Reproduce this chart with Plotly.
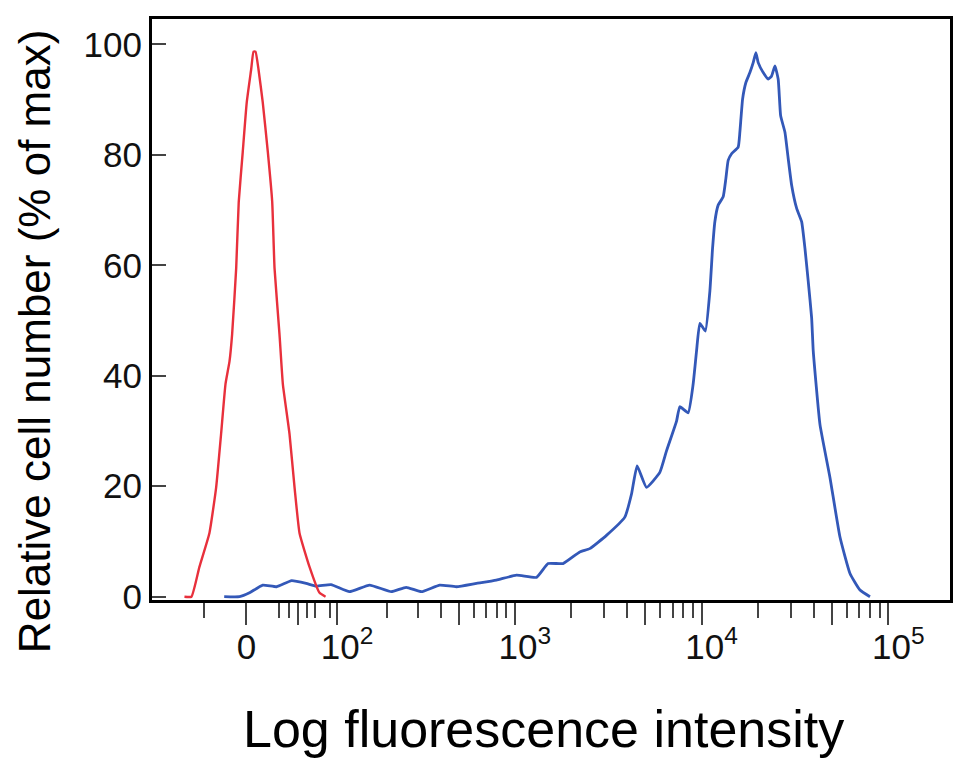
import numpy as np
import plotly.graph_objects as go

# ---- data (fluorescence intensity, % of max) ----
red_intensity = [-61, -53, -44.4, -34.2, -27.6, -22.9, -18.8, -15.1, -12.7, -9.0, -6.7, -3.1,
                 0.5, 4.5, 6.6, 8.4, 11.1, 15.0, 19.7, 23.8, 26.0, 30.8, 34.1, 40.8, 46.1,
                 51.5, 62.9, 75.3, 83.3]
red_pct = [0, 0, 5.4, 11.5, 19.8, 29.5, 38.5, 42.6, 47.5, 59.5, 71.5, 80.5,
           89.5, 95.5, 98.7, 98.7, 95.5, 89.5, 80.5, 71.5, 59.5, 47.5, 38.5, 29.5, 19.8,
           11.5, 5.4, 0.7, 0]

blue_intensity = [-20, -6, 3, 15, 28, 43, 59, 71, 91, 120, 159, 212, 257, 312, 393, 484, 621, 795,
                  1020, 1306, 1507, 1813, 2228, 2520, 3097, 3882, 4217, 4518, 5074, 5978, 6492,
                  7348, 7651, 8478, 9018, 9404, 9794, 10480, 11080, 11456, 11785, 12276, 13056,
                  13498, 13887, 14482, 15710, 16042, 16589, 17277, 18152, 18907, 19544, 20109,
                  21389, 22749, 23729, 24713, 25737, 26514, 27961, 29120, 30374, 32309, 34354,
                  35776, 37266, 38863, 39639, 43058, 48705, 55109, 62359, 70542, 79800]
blue_pct = [0, 0, 0.7, 2.1, 1.8, 2.9, 2.4, 1.9, 2.2, 0.9, 2.1, 0.9, 1.7, 0.9, 2.1, 1.8, 2.4, 3.0,
            3.9, 3.5, 6.0, 6.0, 8.1, 8.7, 11.1, 14.4, 18.6, 23.7, 19.8, 22.5, 26.4,
            31.8, 34.4, 33.3, 38.5, 44.5, 49.5, 48.1, 55.3, 63.1, 67.9, 70.9, 72.4,
            75.7, 79.0, 80.2, 81.4, 84.1, 90.1, 93.1, 94.9, 96.7, 98.5, 96.7,
            94.9, 93.7, 94.3, 96.1, 93.7, 87.1, 84.1, 79.3, 74.5, 70.3, 67.9,
            63.1, 57.1, 50.5, 44.5, 31.2, 21.6, 10.8, 4.2, 1.2, 0]

major_tick_values = [0, 50, 100, 500, 1000, 5000, 10000, 50000, 100000]
major_tick_labels = ["0&nbsp;&nbsp;", "", "10<sup>2</sup>", "", "10<sup>3</sup>", "", "10<sup>4</sup>", "", "10<sup>5</sup>"]
minor_tick_values = [-40, 30, 40, 60, 70, 90,
                     200, 300, 400, 600, 700, 800, 900,
                     2000, 3000, 4000, 6000, 7000, 8000, 9000,
                     20000, 30000, 40000, 60000, 70000, 80000, 90000]
y_tick_values = [0, 20, 40, 60, 80, 100]

x_range_intensity = [-105, 214000]
y_range = [-0.6, 104.6]

# biexponential-like display transform (arcsinh)
W = 72.9
def biex(v):
    return np.arcsinh(np.asarray(v, dtype=float) / W)

fig = go.Figure()
fig.add_trace(go.Scatter(x=biex(blue_intensity), y=blue_pct, mode="lines",
                         line=dict(color="#3358B8", width=2.8, shape="spline", smoothing=0.4),
                         showlegend=False))
fig.add_trace(go.Scatter(x=biex(red_intensity), y=red_pct, mode="lines",
                         line=dict(color="#E8303C", width=2.4, shape="spline", smoothing=0.4),
                         showlegend=False))

tick_font = dict(family="Liberation Sans, Arial, sans-serif", size=35, color="#111111")

fig.update_layout(
    width=953, height=756,
    margin=dict(l=144, r=11, t=8, b=164),
    paper_bgcolor="white", plot_bgcolor="white",
    xaxis=dict(
        range=list(biex(x_range_intensity)),
        showline=True, mirror=True, linecolor="black", linewidth=3,
        showgrid=False, zeroline=False,
        ticks="outside", ticklen=22, tickwidth=2, tickcolor="#444444",
        tickmode="array", tickvals=list(biex(major_tick_values)), ticktext=major_tick_labels,
        tickfont=tick_font, ticklabelshift=10, ticklabelstandoff=-8,
        minor=dict(tickmode="array", tickvals=list(biex(minor_tick_values)),
                   ticks="outside", ticklen=15, tickwidth=2, tickcolor="#444444", showgrid=False),
    ),
    yaxis=dict(
        range=y_range,
        showline=True, mirror=True, linecolor="black", linewidth=3,
        showgrid=False, zeroline=False,
        ticks="inside", ticklen=14, tickwidth=2, tickcolor="#444444",
        tickmode="array", tickvals=y_tick_values,
        tickfont=tick_font,
    ),
    annotations=[
        dict(text="Log fluorescence intensity", xref="paper", yref="paper",
             x=0.49, y=-0.168, xanchor="center", yanchor="top", showarrow=False,
             font=dict(family="Liberation Sans, Arial, sans-serif", size=52, color="black")),
        dict(text="Relative cell number (% of max)", xref="paper", yref="paper",
             x=-0.147, y=0.445, xanchor="center", yanchor="middle", textangle=-90, showarrow=False,
             font=dict(family="Liberation Sans, Arial, sans-serif", size=44, color="black")),
    ],
)

fig.write_html("out.html")
